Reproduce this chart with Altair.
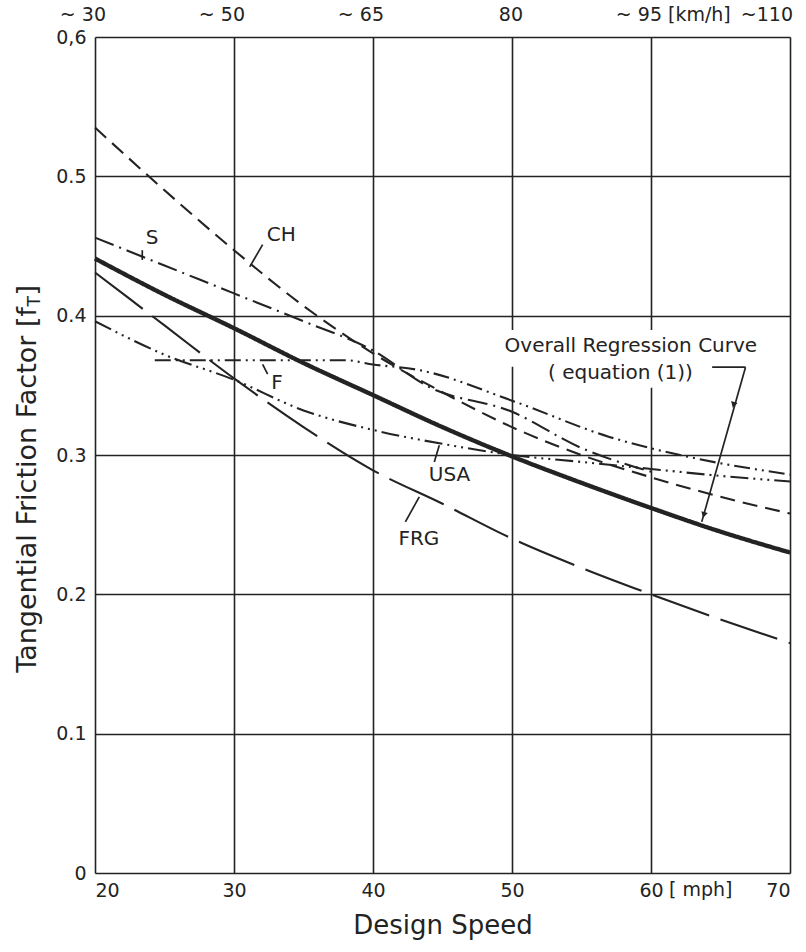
import altair as alt
import pandas as pd

FONT = "DejaVu Sans"
INK = "#232323"

# ---- data ----
reg_x = [20, 25, 30, 35, 40, 45, 50, 55, 60, 65, 70]
reg_y = [0.441, 0.415, 0.391, 0.366, 0.343, 0.320, 0.299, 0.280, 0.262, 0.245, 0.230]

ch_x = [20, 25, 30, 35, 40, 45, 50, 55, 60, 65, 70]
ch_y = [0.535, 0.490, 0.447, 0.407, 0.373, 0.345, 0.320, 0.300, 0.284, 0.270, 0.258]

s_x = [20, 25, 30, 35, 40, 44, 50, 55, 60]
s_y = [0.456, 0.436, 0.416, 0.396, 0.375, 0.349, 0.331, 0.305, 0.288]

f_x = [24.3, 30, 35, 38, 40, 43.3, 50, 57, 63, 70]
f_y = [0.368, 0.368, 0.368, 0.368, 0.365, 0.361, 0.339, 0.313, 0.298, 0.286]

usa_x = [20, 25, 30, 35, 40, 45, 50, 55, 60, 65, 70]
usa_y = [0.396, 0.372, 0.354, 0.332, 0.318, 0.308, 0.300, 0.295, 0.290, 0.285, 0.281]

frg_x = [20, 25, 30, 35, 40, 45, 50, 55, 60, 65, 70]
frg_y = [0.431, 0.393, 0.355, 0.320, 0.289, 0.265, 0.240, 0.219, 0.200, 0.182, 0.165]

x_ticks = [20, 30, 40, 50, 60, 70]
y_ticks = [0, 0.1, 0.2, 0.3, 0.4, 0.5, 0.6]
top_x = [20, 30, 40, 50, 60]
top_labels = ["~ 30", "~ 50", "~ 65", "80", "~ 95"]

# annotation labels
lab_text = ["S", "CH", "F", "USA", "FRG"]
lab_x = [24.1, 33.4, 33.1, 45.5, 43.3]
lab_y = [0.456, 0.458, 0.352, 0.286, 0.240]

# leader lines (start/end in data units)
lead_x = [23.4, 32.06, 32.06, 44.77, 43.33, 64.4, 66.8]
lead_y = [0.447, 0.451, 0.365, 0.307, 0.270, 0.363, 0.363]
lead_x2 = [23.4, 31.13, 32.42, 44.41, 42.33, 66.8, 63.65]
lead_y2 = [0.440, 0.435, 0.358, 0.295, 0.252, 0.363, 0.252]

series = [
    ("Regression", reg_x, reg_y, 4.4, [1, 0]),
    ("CH", ch_x, ch_y, 2.1, [15, 8]),
    ("S", s_x, s_y, 2.1, [20, 6, 2, 6]),
    ("F", f_x, f_y, 2.1, [16, 5, 2, 5, 2, 5]),
    ("USA", usa_x, usa_y, 2.1, [18, 5, 2, 5, 2, 5, 2, 5]),
    ("FRG", frg_x, frg_y, 2.1, [60, 12]),
]

xs = alt.Scale(domain=[20, 70], nice=False, zero=False)
ys = alt.Scale(domain=[0, 0.6], nice=False)

label_expr_y = "datum.value == 0.6 ? '0,6' : (datum.value == 0 ? '0' : format(datum.value, '.1f'))"

base_axes = alt.Chart(pd.DataFrame({"x": [20], "y": [0]})).mark_point(opacity=0).encode(
    x=alt.X("x:Q", scale=xs, axis=alt.Axis(
        values=x_ticks, title="Design Speed", grid=True, ticks=False, domain=False,
        labelFontSize=19, labelFont=FONT, labelColor=INK, labelPadding=8,
        titleFontSize=26, titleFont=FONT, titleFontWeight="normal", titleColor=INK, titlePadding=12,
        gridColor=INK, gridWidth=1.6, gridOpacity=1, format="d")),
    y=alt.Y("y:Q", scale=ys, axis=alt.Axis(
        values=y_ticks, title=None, grid=True, ticks=False, domain=False,
        labelFontSize=19, labelFont=FONT, labelColor=INK, labelPadding=9,
        gridColor=INK, gridWidth=1.6, gridOpacity=1, labelExpr=label_expr_y)),
)

layers = [base_axes]

for name, sx, sy, w, dash in series:
    df = pd.DataFrame({"x": sx, "y": sy})
    layers.append(
        alt.Chart(df).mark_line(color=INK, strokeWidth=w, strokeDash=dash, strokeCap="butt",
                                interpolate="monotone").encode(
            x=alt.X("x:Q", scale=xs), y=alt.Y("y:Q", scale=ys)
        )
    )

# white boxes behind the regression label (interrupt the gridlines)
box_df = pd.DataFrame({"x": [48.5, 51.9], "x2": [68.6, 64.3], "y": [0.3634, 0.3483], "y2": [0.3898, 0.3669]})
layers.append(alt.Chart(box_df).mark_rect(color="white").encode(
    x=alt.X("x:Q", scale=xs), x2="x2:Q", y=alt.Y("y:Q", scale=ys), y2="y2:Q"))

lead_df = pd.DataFrame({"x": lead_x, "y": lead_y, "x2": lead_x2, "y2": lead_y2})
layers.append(alt.Chart(lead_df).mark_rule(color=INK, strokeWidth=1.7).encode(
    x=alt.X("x:Q", scale=xs), y=alt.Y("y:Q", scale=ys), x2="x2:Q", y2="y2:Q"))

# arrow heads on the regression leader
arrow_df = pd.DataFrame({"x": [63.8, 65.94], "y": [0.257, 0.336]})
layers.append(alt.Chart(arrow_df).mark_point(shape="triangle-down", filled=True, color=INK, size=45, angle=16, opacity=1).encode(
    x=alt.X("x:Q", scale=xs), y=alt.Y("y:Q", scale=ys)))

lab_df = pd.DataFrame({"t": lab_text, "x": lab_x, "y": lab_y})
layers.append(alt.Chart(lab_df).mark_text(font=FONT, fontSize=20, color=INK).encode(
    x=alt.X("x:Q", scale=xs), y=alt.Y("y:Q", scale=ys), text="t:N"))

reg_df = pd.DataFrame({"t": ["Overall Regression Curve", "( equation (1))"], "x": [58.55, 57.8], "y": [0.378, 0.359]})
layers.append(alt.Chart(reg_df).mark_text(font=FONT, fontSize=20, color=INK).encode(
    x=alt.X("x:Q", scale=xs), y=alt.Y("y:Q", scale=ys), text="t:N"))

# top km/h labels
top_df = pd.DataFrame({"x": top_x, "t": top_labels})
layers.append(alt.Chart(top_df).mark_text(font=FONT, fontSize=19, color=INK, align="right", dx=11).encode(
    x=alt.X("x:Q", scale=xs), y=alt.value(-22), text="t:N"))
last_df = pd.DataFrame({"x": [70], "t": ["~110"]})
layers.append(alt.Chart(last_df).mark_text(font=FONT, fontSize=19, color=INK, align="right", dx=3).encode(
    x=alt.X("x:Q", scale=xs), y=alt.value(-22), text="t:N"))
unit_df = pd.DataFrame({"x": [60], "t": ["[km/h]"]})
layers.append(alt.Chart(unit_df).mark_text(font=FONT, fontSize=19, color=INK, align="left", dx=17).encode(
    x=alt.X("x:Q", scale=xs), y=alt.value(-22), text="t:N"))
mph_df = pd.DataFrame({"x": [60], "t": ["[ mph]"]})
layers.append(alt.Chart(mph_df).mark_text(font=FONT, fontSize=19, color=INK, align="left", dx=18, baseline="top").encode(
    x=alt.X("x:Q", scale=xs), y=alt.value(844), text="t:N"))

# y axis title with subscript T (anchored at its top end)
yt_main = pd.DataFrame({"t": ["Tangential Friction Factor [f"]})
layers.append(alt.Chart(yt_main).mark_text(font=FONT, fontSize=27, color=INK, angle=270, align="right", baseline="middle", dx=-22).encode(
    x=alt.value(-67), y=alt.value(248), text="t:N"))
yt_sub = pd.DataFrame({"t": ["T"]})
layers.append(alt.Chart(yt_sub).mark_text(font=FONT, fontSize=17, color=INK, angle=270, align="right", baseline="middle", dx=-11, dy=7).encode(
    x=alt.value(-67), y=alt.value(248), text="t:N"))
yt_end = pd.DataFrame({"t": ["]"]})
layers.append(alt.Chart(yt_end).mark_text(font=FONT, fontSize=27, color=INK, angle=270, align="right", baseline="middle").encode(
    x=alt.value(-67), y=alt.value(248), text="t:N"))

chart = alt.layer(*layers).properties(
    width=695, height=836,
    autosize=alt.AutoSizeParams(type="none"),
    padding={"left": 95, "top": 37, "right": 16, "bottom": 79},
).configure_view(stroke="black", strokeWidth=2.6).configure(background="white")

chart.save("out.html", embed_options={"renderer": "svg", "actions": False})
